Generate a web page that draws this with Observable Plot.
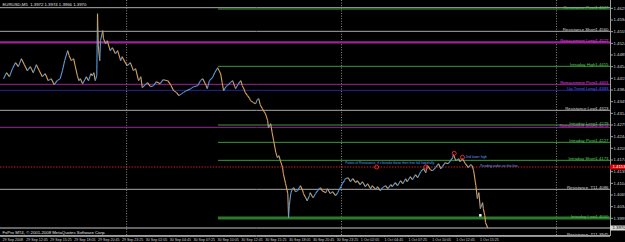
<!DOCTYPE html>
<html><head><meta charset="utf-8">
<script src="https://cdn.jsdelivr.net/npm/d3@7"></script>
<script src="https://cdn.jsdelivr.net/npm/@observablehq/plot@0.6"></script>
<style>html,body{margin:0;padding:0;background:#000;overflow:hidden}svg{display:block}</style>
</head><body><div id="chart"></div>
<script>
const symbolTitle = "EURUSD,M5  1.3972 1.3974 1.3966 1.3970";
const copyright = "FxPro MT4, © 2001-2008 MetaQuotes Software Corp.";

// bar index (M5): 0 = 29 Sep 2008 09:55
const pathBars = [4,8,12,16,20,24,28,32,36,40,44,48,52,56,60,64,68,72,76,80,83,86,90,92,95,98,100,103,105,107,110,113,115,118,121,123,125,127,129,130,131,133,134,137,138,141,143,147,150,154,157,161,163,168,170,174,178,181,185,188,190,194,197,201,205,209,214,218,224,228,232,236,239,243,245,249,255,259,264,268,271,275,277,280,284,287,291,293,295,297,299,302,304,308,311,314,315,318,322,324,326,328,331,334,335,339,342,344,346,348,351,354,355,358,359,362,364,366,369,371,373,375,378,379,382,385,386,387,389,391,393,395,398,401,402,405,406,409,411,414,415,418,419,422,425,427,429,431,436,438,442,445,449,452,453,456,458,461,462,466,469,472,476,478,482,485,489,492,496,498,503,505,509,512,516,519,523,525,529,532,536,539,543,545,549,552,556,559,563,567,570,572,576,579,583,587,590,592,596,600,603,606,607,610,614,616,619,623,627,630,632,634,637,639,641,643,646,647,649,650,653];
const pathPrices = [1.4418,1.4436,1.4424,1.4448,1.4466,1.4454,1.4478,1.4460,1.4442,1.4454,1.4436,1.4460,1.4442,1.4424,1.4433,1.4412,1.4418,1.4400,1.4412,1.4418,1.4442,1.4472,1.4502,1.4487,1.4472,1.4478,1.4457,1.4427,1.4412,1.4418,1.4403,1.4415,1.4424,1.4412,1.4433,1.4427,1.4436,1.4412,1.4427,1.4613,1.4517,1.4472,1.4532,1.4562,1.4538,1.4523,1.4532,1.4502,1.4511,1.4493,1.4502,1.4472,1.4484,1.4463,1.4457,1.4466,1.4442,1.4448,1.4412,1.4424,1.4391,1.4400,1.4406,1.4394,1.4397,1.4409,1.4403,1.4415,1.4412,1.4400,1.4382,1.4376,1.4367,1.4373,1.4376,1.4382,1.4388,1.4394,1.4397,1.4412,1.4418,1.4400,1.4388,1.4412,1.4421,1.4436,1.4451,1.4442,1.4433,1.4406,1.4382,1.4394,1.4397,1.4406,1.4412,1.4394,1.4388,1.4400,1.4412,1.4397,1.4388,1.4376,1.4367,1.4358,1.4352,1.4346,1.4343,1.4355,1.4358,1.4340,1.4328,1.4316,1.4313,1.4292,1.4271,1.4283,1.4256,1.4232,1.4196,1.4181,1.4187,1.4172,1.4151,1.4133,1.4103,1.4073,1.4001,1.4037,1.4073,1.4088,1.4091,1.4079,1.4082,1.4094,1.4097,1.4082,1.4073,1.4061,1.4052,1.4067,1.4076,1.4064,1.4061,1.4073,1.4082,1.4088,1.4091,1.4082,1.4076,1.4088,1.4073,1.4079,1.4067,1.4076,1.4082,1.4094,1.4103,1.4112,1.4118,1.4121,1.4109,1.4118,1.4106,1.4112,1.4100,1.4109,1.4094,1.4103,1.4088,1.4097,1.4085,1.4094,1.4082,1.4091,1.4097,1.4088,1.4100,1.4094,1.4106,1.4097,1.4112,1.4103,1.4118,1.4109,1.4124,1.4115,1.4130,1.4121,1.4139,1.4148,1.4136,1.4157,1.4145,1.4142,1.4151,1.4163,1.4148,1.4154,1.4166,1.4163,1.4172,1.4181,1.4190,1.4172,1.4178,1.4169,1.4178,1.4163,1.4151,1.4160,1.4157,1.4142,1.4097,1.4058,1.4076,1.4028,1.4046,1.4028,1.4007,1.3986,1.3970];

const timeLabelBars = [2,34,66,98,130,162,194,226,258,290,322,354,386,418,450,482,514,546,578,610,642];
const timeLabels = ["29 Sep 2008","29 Sep 12:45","29 Sep 15:25","29 Sep 18:05","29 Sep 20:45","29 Sep 23:25","30 Sep 02:05","30 Sep 04:45","30 Sep 07:25","30 Sep 10:05","30 Sep 12:45","30 Sep 15:25","30 Sep 18:05","30 Sep 20:45","30 Sep 23:25","1 Oct 02:05","1 Oct 04:45","1 Oct 07:25","1 Oct 10:05","1 Oct 12:45","1 Oct 15:25"];
const separatorBars = [169, 457, 745];
const priceTicks = [1.4629,1.4594,1.4559,1.4524,1.4489,1.4454,1.4419,1.4384,1.4349,1.4314,1.4279,1.4244,1.4209,1.4174,1.4139,1.4104,1.4069,1.4034,1.3999];

const levelNames  = ["", "Resistance Pivot", "Resistance Short", "Retracement Long", "Intraday High", "Retracement Pivot", "Up Trend Long", "Resistance Low", "Intraday Long", "Retracement Short", "Intraday Pivot", "Intraday Short", "Resistance  T1", "Intraday Low", "Resistance  T1"];
const levelPrices = [1.4631, 1.4627, 1.4560, 1.4527, 1.4455, 1.4401, 1.4383, 1.4323, 1.4279, 1.4272, 1.4227, 1.4173, 1.4086, 1.4000, 1.3945];
const levelKinds  = ["resistance","intraday","resistance","retracement","intraday","retracement","trend","resistance","intraday","retracement","intraday","intraday","resistance","intraday","resistance"];
const levelStartBars = [0,292,0,0,292,0,0,0,292,0,292,292,0,292,0];

const pendingPrice = 1.4153;
const bidPrice = 1.3970;

const markerBars = [504, 570, 608, 619];
const markerPrices = [1.4153, 1.4153, 1.4194, 1.4182];
const whiteMarkBars = [643];
const whiteMarkPrices = [1.4008];

const noteTexts = ["Points of Resistance, if it breaks these then free fall hopefully", "2nd lower high", "Pending order on this line"];
const noteBars = [462, 623, 643];
const notePrices = [1.4165, 1.4184, 1.4155];

// ---- styles ----
const lineColor = {intraday:"#3b9a3b", resistance:"#a9a9a9", retracement:"#9c229c", trend:"#24249c"};
const textColor = {intraday:"#4fd04f", resistance:"#d8d8d8", retracement:"#e040e0", trend:"#4c5cf0"};
const lineWidth = {"Retracement Long":2.4, "Intraday Low":3};
const lineOverride = {"Intraday Low":"#2c7a2c"};
const upColor = "#5b9bd6", downColor = "#d9a15c";

const xMax = 817.4;
const yDomain = [1.39475, 1.46525];

const segs = [];
for (let i = 1; i < pathBars.length; i++) {
  segs.push({x1: pathBars[i-1], y1: pathPrices[i-1], x2: pathBars[i], y2: pathPrices[i], up: pathPrices[i] >= pathPrices[i-1]});
}
const levels = levelNames.map((n, i) => ({name: n, price: levelPrices[i], kind: levelKinds[i], start: levelStartBars[i]}));
const labelled = levels.filter(d => d.name);
const labelMap = new Map(timeLabelBars.map((b, i) => [b, timeLabels[i]]));
const markers = markerBars.map((b, i) => ({x: b, y: markerPrices[i]}));
const whiteMarks = whiteMarkBars.map((b, i) => ({x: b, y: whiteMarkPrices[i]}));
const notes = noteTexts.map((t, i) => ({t, x: noteBars[i], y: notePrices[i]}));
const fs = "4.3px";

const chart = Plot.plot({
  width: 625, height: 242,
  marginLeft: 0, marginRight: 15, marginTop: 0, marginBottom: 7,
  style: {background: "#000", color: "#d0d0d0", fontFamily: "Liberation Sans, Arial, sans-serif", fontSize: fs},
  x: {domain: [0, xMax], axis: null},
  y: {domain: yDomain, axis: null},
  marks: [
    Plot.ruleX(separatorBars, {stroke: "#8c8c8c", strokeDasharray: "1,1.6", strokeWidth: 1}),
    Plot.ruleY(levels, {y: "price", x1: "start", x2: () => xMax, stroke: d => lineOverride[d.name] || lineColor[d.kind], strokeWidth: d => lineWidth[d.name] || 1}),
    Plot.ruleY([pendingPrice], {x1: 0, x2: xMax, stroke: "#d42020", strokeDasharray: "1.4,1.4", strokeWidth: 1}),
    Plot.ruleY([bidPrice], {x1: 0, x2: xMax, stroke: "#c8c8c8", strokeWidth: 1}),
    Plot.link(segs, {x1: "x1", y1: "y1", x2: "x2", y2: "y2", stroke: d => d.up ? upColor : downColor, strokeWidth: 1.1}),
    Plot.dot(markers, {x: "x", y: "y", r: 2, stroke: "#ff2a2a", strokeWidth: 0.9}),
    Plot.dot(whiteMarks, {x: "x", y: "y", r: 1.4, symbol: "square", fill: "#fff"}),
    Plot.text(labelled, {x: () => xMax, y: "price", text: "name", textAnchor: "end", lineAnchor: "bottom", dx: -15, dy: -0.3, fill: d => textColor[d.kind], fontSize: fs}),
    Plot.text(labelled, {x: () => xMax, y: "price", text: d => d.price.toFixed(4), textAnchor: "end", lineAnchor: "bottom", dx: -2, dy: -0.3, fill: d => textColor[d.kind], fontSize: fs}),
    Plot.text(notes, {x: "x", y: "y", text: "t", textAnchor: "start", fill: "#5aa2ff", fontSize: "3.3px"}),
    Plot.text([symbolTitle], {frameAnchor: "top-left", dx: 2, dy: 2, fill: "#e0e0e0", fontSize: fs, lineAnchor: "top"}),
    Plot.text([copyright], {frameAnchor: "bottom-left", dx: 2, dy: -2, fill: "#e0e0e0", fontSize: fs, lineAnchor: "bottom"}),
    Plot.frame({anchor: "right", stroke: "#a0a0a0"}),
    Plot.frame({anchor: "bottom", stroke: "#a0a0a0"}),
    Plot.axisX({anchor: "bottom", ticks: timeLabelBars, tickFormat: d => labelMap.get(d), tickSize: 2, tickPadding: 1, textAnchor: "start", dx: 0.5, fontSize: "3.6px", color: "#d0d0d0", stroke: "#a0a0a0"}),
    Plot.axisY({anchor: "right", ticks: priceTicks, tickFormat: d => d.toFixed(4), tickSize: 2, tickPadding: 1, fontSize: fs, color: "#d0d0d0", stroke: "#a0a0a0"}),
    Plot.ruleY([pendingPrice], {x1: xMax, x2: xMax + 21, stroke: "#e00000", strokeWidth: 5}),
    Plot.text([pendingPrice], {x: xMax, y: d => d, text: d => d.toFixed(4), textAnchor: "start", dx: 2, fill: "#fff", fontSize: fs}),
    Plot.ruleY([bidPrice], {x1: xMax, x2: xMax + 21, stroke: "#d8d8d8", strokeWidth: 5}),
    Plot.text([bidPrice], {x: xMax, y: d => d, text: d => d.toFixed(4), textAnchor: "start", dx: 2, fill: "#000", fontSize: fs})
  ]
});
document.getElementById("chart").appendChild(chart);
</script></body></html>
